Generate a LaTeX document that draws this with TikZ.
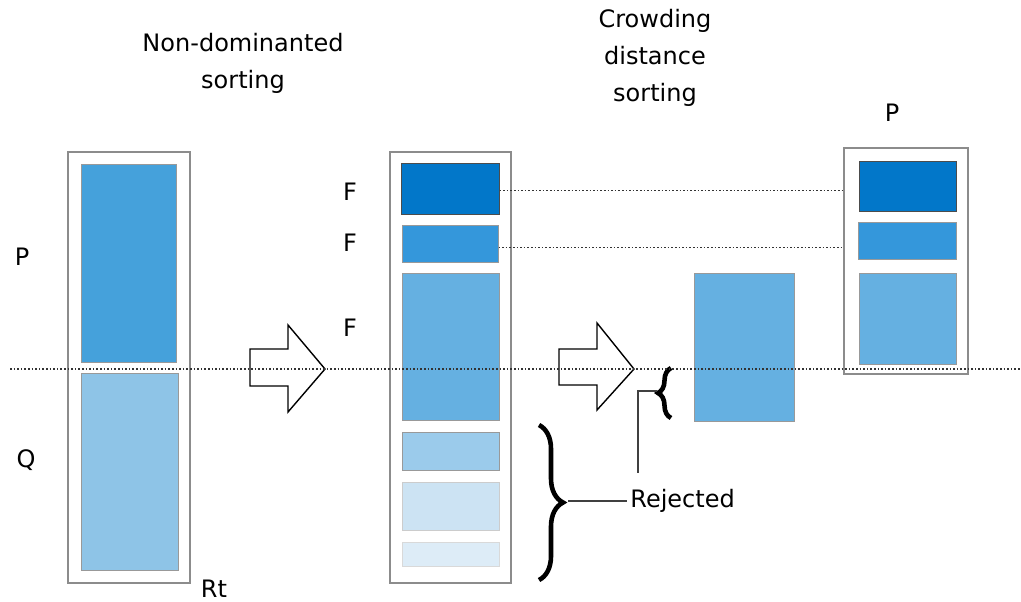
\documentclass[tikz,border=0pt]{standalone}
\usepackage{fontspec}
\setmainfont{DejaVu Sans}
\usetikzlibrary{fit,decorations.pathreplacing}
\definecolor{fdark}{HTML}{0277C9}
\definecolor{fmid}{HTML}{3497DB}
\definecolor{flight}{HTML}{65B0E1}
\definecolor{ppop}{HTML}{45A1DB}
\definecolor{qpop}{HTML}{8EC4E7}
\definecolor{rejA}{HTML}{9BCBEB}
\definecolor{rejB}{HTML}{CCE3F3}
\definecolor{rejC}{HTML}{DDECF7}

\begin{document}
\begin{tikzpicture}[x=0.5pt,y=-0.5pt,
  frame/.style={draw=black!45, line width=0.9pt, fill=white, inner sep=0pt},
  blk/.style={draw=black!40, line width=0.5pt, inner sep=0pt},
  lbl/.style={font=\fontsize{12}{18.5}\selectfont, align=center},
  sep/.style={densely dotted, line width=0.8pt, draw=black!80},
  bigarrow/.style={draw=black, line width=0.7pt, fill=white, line join=miter},
  curly/.style={decorate, decoration={brace, amplitude=#1}, line width=2.3pt},
  leader/.style={draw=black!75, line width=0.7pt}]
  \useasboundingbox (0,0) rectangle (1021,601);

  %%%%% titles %%%%%
  \node[lbl] (ndsort) at (243,63) {Non-dominanted\\sorting};
  \node[lbl] (cdsort) at (655,58) {Crowding\\distance\\sorting};

  %%%%% Rt = P + Q %%%%%
  \node[frame, fit={(68,152) (190,583)}] (rt) {};
  \node[blk, fill=ppop, fit={(81,164) (176,362)}] (pold) {};
  \node[blk, fill=qpop, fit={(81,373) (178,570)}] (qold) {};
  \node[lbl] (plbl) at (22,257) {P};
  \node[lbl] (qlbl) at (26,460) {Q};
  \node[lbl] (rtlbl) at (214,589) {Rt};

  \draw[bigarrow] (250,349) -- (288,349) -- (288,325) -- (325,369) -- (288,412) -- (288,386) -- (250,386) -- cycle;

  %%%%% fronts %%%%%
  \node[frame, fit={(390,152) (511,583)}] (fronts) {};
  \node[blk, draw=black!70, fill=fdark, fit={(401,163) (499,214)}] (f1) {};
  \node[blk, fill=fmid, fit={(402,225) (498,262)}] (f2) {};
  \node[blk, fill=flight, fit={(402,273) (499,420)}] (f3) {};
  \node[blk, fill=rejA, fit={(402,432) (499,470)}] (f4) {};
  \node[blk, draw=black!20, fill=rejB, fit={(402,482) (499,530)}] (f5) {};
  \node[blk, draw=black!15, fill=rejC, fit={(402,542) (499,566)}] (f6) {};
  \node[lbl] (f1lbl) at (350,192) {F};
  \node[lbl] (f2lbl) at (350,243) {F};
  \node[lbl] (f3lbl) at (350,328) {F};

  \draw[bigarrow] (559,349) -- (597,349) -- (597,323) -- (634,369) -- (597,410) -- (597,385) -- (559,385) -- cycle;

  \node[blk, fill=flight, fit={(694,273) (794,421)}] (f3part) {};

  %%%%% new P %%%%%
  \node[frame, fit={(844,148) (968,374)}] (pnew) {};
  \node[blk, draw=black!70, fill=fdark, fit={(859,161) (956,211)}] (p1) {};
  \node[blk, fill=fmid, fit={(858,222) (956,259)}] (p2) {};
  \node[blk, fill=flight, fit={(859,273) (956,364)}] (p3) {};
  \node[lbl] (pnewlbl) at (892,113) {P};

  \draw[sep] ([yshift=-1pt]f1.east) -- ([yshift=-1pt]f1.east -| pnew.west);
  \draw[sep] ([yshift=-2pt]f2.east) -- ([yshift=-2pt]f2.east -| pnew.west);

  %%%%% rejected %%%%%
  \draw[curly=12pt] (539,425) -- (539,580);
  \draw[curly=6.5pt] (671,418) -- (671,368);
  \coordinate (bigtip) at (568,501);
  \coordinate (smalltip) at (657,391);
  \coordinate (rejtop) at (638,473);
  \node[lbl, anchor=west, inner sep=1.5pt] (rej) at (627,501) {Rejected};
  \draw[leader] (bigtip) -- (bigtip -| rej.west);
  \draw[leader] (smalltip) -| (rejtop);

  %%%%% cut line %%%%%
  \draw[sep] (10,369) -- (1021,369);
\end{tikzpicture}
\end{document}
